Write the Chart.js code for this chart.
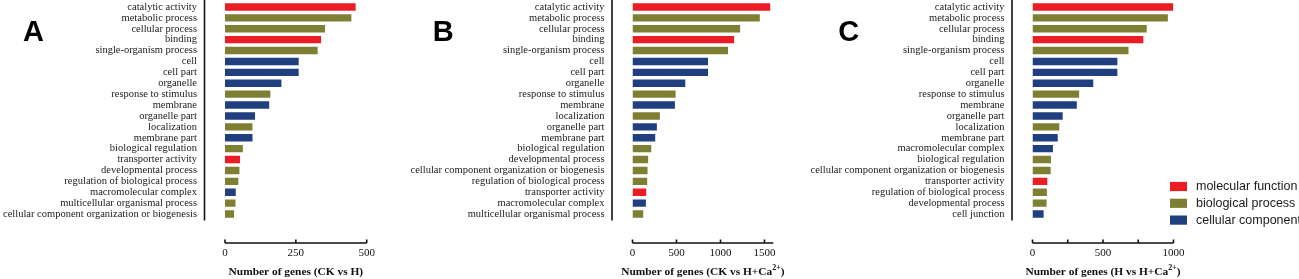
<!DOCTYPE html>
<html>
<head>
<meta charset="utf-8">
<script src="https://cdn.jsdelivr.net/npm/chart.js@4.4.1/dist/chart.umd.min.js"></script>
<style>
  html, body { margin: 0; padding: 0; background: #fff; }
  #wrap { position: relative; width: 1299px; height: 279px; }
  #wrap canvas { position: absolute; left: 0; top: 0; }
</style>
</head>
<body>
<div id="wrap">
  <canvas id="chartA" width="1299" height="279"></canvas>
  <canvas id="chartB" width="1299" height="279"></canvas>
  <canvas id="chartC" width="1299" height="279"></canvas>
</div>
<script>
// GO categories and gene counts
const termsA = ['catalytic activity', 'metabolic process', 'cellular process', 'binding', 'single-organism process',
  'cell', 'cell part', 'organelle', 'response to stimulus', 'membrane', 'organelle part', 'localization',
  'membrane part', 'biological regulation', 'transporter activity', 'developmental process',
  'regulation of biological process', 'macromolecular complex', 'multicellular organismal process',
  'cellular component organization or biogenesis'];
const countsA = [461, 446, 353, 339, 327, 260, 260, 199, 160, 156, 106, 97, 97, 63, 53, 51, 47, 38, 37, 32];

const termsB = ['catalytic activity', 'metabolic process', 'cellular process', 'binding', 'single-organism process',
  'cell', 'cell part', 'organelle', 'response to stimulus', 'membrane', 'localization', 'organelle part',
  'membrane part', 'biological regulation', 'developmental process',
  'cellular component organization or biogenesis', 'regulation of biological process', 'transporter activity',
  'macromolecular complex', 'multicellular organismal process'];
const countsB = [1565, 1447, 1223, 1155, 1086, 858, 858, 600, 490, 482, 311, 277, 258, 213, 178, 171, 167, 156, 152, 122];

const termsC = ['catalytic activity', 'metabolic process', 'cellular process', 'binding', 'single-organism process',
  'cell', 'cell part', 'organelle', 'response to stimulus', 'membrane', 'organelle part', 'localization',
  'membrane part', 'macromolecular complex', 'biological regulation',
  'cellular component organization or biogenesis', 'transporter activity', 'regulation of biological process',
  'developmental process', 'cell junction'];
const countsC = [998, 960, 810, 786, 681, 602, 602, 431, 331, 314, 214, 190, 179, 145, 131, 129, 105, 102, 100, 79];

// x axis ticks (all) and the ones that carry a label
const ticksA = [0, 250, 500];
const ticksB = [0, 500, 1000, 1500];
const ticksC = [0, 250, 500, 750, 1000];
const tickLabelsC = [0, 500, 1000];

// which GO domain each term belongs to
const ontologies = ['molecular function', 'biological process', 'cellular component'];
const termOntology = {
  'catalytic activity': 'molecular function',
  'binding': 'molecular function',
  'transporter activity': 'molecular function',
  'metabolic process': 'biological process',
  'cellular process': 'biological process',
  'single-organism process': 'biological process',
  'response to stimulus': 'biological process',
  'localization': 'biological process',
  'biological regulation': 'biological process',
  'developmental process': 'biological process',
  'regulation of biological process': 'biological process',
  'multicellular organismal process': 'biological process',
  'cellular component organization or biogenesis': 'biological process',
  'cell': 'cellular component',
  'cell part': 'cellular component',
  'organelle': 'cellular component',
  'membrane': 'cellular component',
  'organelle part': 'cellular component',
  'membrane part': 'cellular component',
  'macromolecular complex': 'cellular component',
  'cell junction': 'cellular component'
};

const ontologyColor = {
  'molecular function': '#ec1c24',
  'biological process': '#7f7f33',
  'cellular component': '#1f3f7f'
};

const SERIF = '"Liberation Serif", "Times New Roman", serif';
const SANS = '"Liberation Sans", Arial, sans-serif';

// axes in Prism style: detached category line, value axis below with a gap
const panelAxes = {
  id: 'panelAxes',
  afterDraw(chart, args, opts) {
    const ctx = chart.ctx;
    const area = chart.chartArea;
    const xs = chart.scales.x;
    ctx.save();
    ctx.strokeStyle = '#111';
    ctx.lineWidth = 1.6;

    const ax = area.left - 20.5;
    ctx.beginPath();
    ctx.moveTo(ax, 0);
    ctx.lineTo(ax, area.bottom + 1);
    ctx.stroke();

    const ay = area.bottom + 23.5;
    ctx.beginPath();
    ctx.moveTo(xs.getPixelForValue(xs.min), ay);
    ctx.lineTo(xs.getPixelForValue(xs.max), ay);
    opts.ticks.forEach(v => {
      const px = xs.getPixelForValue(v);
      ctx.moveTo(px, ay);
      ctx.lineTo(px, ay - 3.5);
    });
    ctx.stroke();

    ctx.fillStyle = '#111';
    ctx.font = '11px ' + SERIF;
    ctx.textAlign = 'center';
    ctx.textBaseline = 'middle';
    (opts.tickLabels || opts.ticks).forEach(v => {
      ctx.fillText(String(v), xs.getPixelForValue(v), ay + 10.5);
    });

    // title, possibly with a superscript piece
    const mainFont = 'bold 11.4px ' + SERIF;
    const supFont = 'bold 8px ' + SERIF;
    let total = 0;
    opts.title.forEach(p => { ctx.font = p.sup ? supFont : mainFont; total += ctx.measureText(p.text).width; });
    let tx = (xs.getPixelForValue(xs.min) + xs.getPixelForValue(xs.max)) / 2 - total / 2;
    const ty = ay + 31.5;
    ctx.textAlign = 'left';
    ctx.textBaseline = 'alphabetic';
    opts.title.forEach(p => {
      ctx.font = p.sup ? supFont : mainFont;
      ctx.fillText(p.text, tx, p.sup ? ty - 5 : ty);
      tx += ctx.measureText(p.text).width;
    });

    // panel letter
    ctx.font = 'bold 29px ' + SANS;
    ctx.fillStyle = '#000';
    ctx.fillText(opts.letter, opts.letterX, 41);

    if (opts.legend) {
      ctx.font = '12.5px ' + SANS;
      ctx.textBaseline = 'middle';
      ontologies.forEach((name, i) => {
        const cy = 186.5 + i * 16.8;
        ctx.fillStyle = ontologyColor[name];
        ctx.fillRect(1170, cy - 4.6, 17, 9.2);
        ctx.fillStyle = '#1a1a1a';
        ctx.fillText(name, 1196, cy);
      });
    }
    ctx.restore();
  }
};

// start: left edge of the label column, left/right: pixel span of the value range
function makePanel(id, terms, counts, xMax, start, left, right, axisOpts) {
  return new Chart(document.getElementById(id), {
    type: 'bar',
    data: {
      labels: terms,
      datasets: [{
        data: counts,
        backgroundColor: terms.map(t => ontologyColor[termOntology[t]]),
        borderWidth: 0,
        barPercentage: 0.68,
        categoryPercentage: 1
      }]
    },
    options: {
      indexAxis: 'y',
      responsive: false,
      animation: false,
      layout: { padding: { left: start, right: 1299 - right, top: 1.5, bottom: 59.5 } },
      plugins: {
        legend: { display: false },
        tooltip: { enabled: false },
        panelAxes: axisOpts
      },
      scales: {
        x: { display: false, min: 0, max: xMax },
        y: {
          grid: { display: false, drawTicks: false },
          border: { display: false },
          ticks: {
            autoSkip: false,
            padding: 28,
            color: '#1a1a1a',
            font: { family: SERIF, size: 10.5 }
          },
          afterFit(s) { s.width = left - start; s.paddingTop = 0; s.paddingBottom = 0; }
        }
      }
    },
    plugins: [panelAxes]
  });
}

makePanel('chartA', termsA, countsA, 500, 0, 225, 366.7, {
  ticks: ticksA, letter: 'A', letterX: 23,
  title: [{ text: 'Number of genes (CK vs H)' }]
});
makePanel('chartB', termsB, countsB, 1600, 390, 632.5, 773.3, {
  ticks: ticksB, letter: 'B', letterX: 432.7,
  title: [{ text: 'Number of genes (CK vs H+Ca' }, { text: '2+', sup: true }, { text: ')' }]
});
makePanel('chartC', termsC, countsC, 1000, 800, 1032.5, 1173.5, {
  ticks: ticksC, tickLabels: tickLabelsC, letter: 'C', letterX: 838.3, legend: true,
  title: [{ text: 'Number of genes (H vs H+Ca' }, { text: '2+', sup: true }, { text: ')' }]
});
</script>
</body>
</html>
